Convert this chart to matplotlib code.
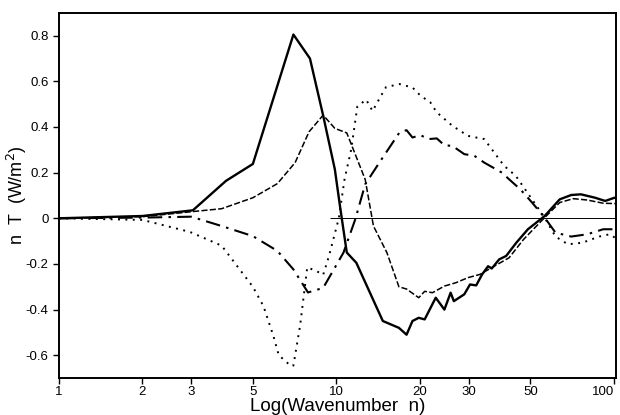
import matplotlib
matplotlib.use("Agg")
import matplotlib.pyplot as plt
import numpy as np
from matplotlib.ticker import FixedLocator, FixedFormatter

plt.rcParams['font.family'] = ['Liberation Sans', 'DejaVu Sans']
plt.rcParams['axes.unicode_minus'] = False

# solid curve
n_solid = [1, 2, 3.04, 4.0, 5.0, 7.0, 8.03, 8.96, 9.87, 10.3, 10.9, 11.8, 14.7, 16.8,
           17.9, 18.8, 19.8, 20.8, 22.8, 24.5, 25.8, 26.5, 28.9, 30.3, 31.9, 33.5,
           35.2, 36.3, 38.6, 40.9, 44.5, 49.0, 56.3, 63.8, 70.2, 76.1, 85.6, 93.0,
           100.5, 103]
v_solid = [0, 0.01, 0.035, 0.164, 0.238, 0.805, 0.70, 0.45, 0.215, 0.054, -0.15,
           -0.195, -0.45, -0.48, -0.51, -0.45, -0.436, -0.443, -0.348, -0.40, -0.326,
           -0.363, -0.333, -0.29, -0.294, -0.246, -0.21, -0.22, -0.18, -0.165, -0.107,
           -0.048, 0.01, 0.083, 0.102, 0.105, 0.09, 0.076, 0.09, 0.088]

# short-dashed curve
n_dash = [1, 2, 3.07, 3.86, 5.0, 6.13, 7.1, 7.97, 8.96, 9.87, 10.9, 12.7, 13.6,
          15.2, 16.8, 17.9, 19.8, 20.8, 22.2, 24.5, 27.0, 29.8, 32.9, 36.3, 41.9,
          47.3, 56.3, 63.8, 71.4, 80.2, 91.5, 103]
v_dash = [0, 0.007, 0.03, 0.042, 0.09, 0.152, 0.244, 0.379, 0.452, 0.394, 0.374,
          0.17, -0.034, -0.15, -0.30, -0.31, -0.348, -0.32, -0.326, -0.297, -0.282,
          -0.26, -0.246, -0.216, -0.173, -0.092, 0.003, 0.069, 0.086, 0.08, 0.066, 0.064]

# dotted curve
n_dot = [1, 2, 2.97, 3.86, 5.0, 5.46, 5.93, 6.2, 6.87, 7.0, 7.4, 7.85, 8.5, 8.96,
         9.4, 10.2, 10.7, 11.3, 11.9, 12.8, 13.5, 14.3, 15.1, 16.9, 18.8, 20.1,
         21.8, 23.0, 26.2, 29.8, 34.1, 40.2, 44.3, 50.7, 56.3, 61.6, 68.3, 77.0,
         88.5, 96.6, 103]
v_dot = [0, -0.007, -0.06, -0.12, -0.30, -0.385, -0.516, -0.60, -0.648, -0.645,
         -0.47, -0.215, -0.232, -0.248, -0.166, 0.0, 0.171, 0.30, 0.49, 0.52, 0.47,
         0.525, 0.575, 0.588, 0.573, 0.537, 0.508, 0.464, 0.405, 0.361, 0.347, 0.23,
         0.186, 0.083, 0.003, -0.08, -0.114, -0.107, -0.08, -0.07, -0.092]

# dash-dot curve
n_dd = [1, 2, 3.0, 3.86, 5.0, 6.13, 7.0, 7.9, 8.96, 10.6, 11.7, 12.7, 14.3, 16.9,
        17.9, 18.8, 20.1, 21.5, 23.0, 24.5, 26.2, 28.9, 31.4, 34.1, 39.5, 41.9,
        46.0, 50.7, 56.3, 61.6, 70.2, 80.2, 91.5, 103]
v_dd = [0, 0.003, 0.007, -0.034, -0.078, -0.143, -0.224, -0.325, -0.305, -0.151,
        -0.004, 0.149, 0.245, 0.377, 0.386, 0.354, 0.364, 0.347, 0.35, 0.32, 0.317,
        0.281, 0.274, 0.244, 0.2, 0.171, 0.127, 0.069, 0.003, -0.063, -0.08, -0.07,
        -0.048, -0.048]

x_ticks = [1, 2, 3, 5, 10, 20, 30, 50, 100]
x_labels = ['1', '2', '3', '5', '10', '20', '30', '50', '100']
y_ticks = [-0.6, -0.4, -0.2, 0, 0.2, 0.4, 0.6, 0.8]
y_labels = ['-0.6', '-0.4', '-0.2', '0', '0.2', '0.4', '0.6', '0.8']

fig = plt.figure(figsize=(6.2, 4.15), dpi=100)
ax = fig.add_axes([0.095, 0.089, 0.899, 0.88])

ax.hlines(0, 9.5, 103, color='black', lw=0.7)
ax.plot(n_solid, v_solid, color='black', lw=1.7, ls='-')
ax.plot(n_dash, v_dash, color='black', lw=1.1, ls=(0, (4, 1.5)))
ax.plot(n_dot, v_dot, color='black', lw=1.4, ls=(0, (1, 2.8)))
ax.plot(n_dd, v_dd, color='black', lw=1.5, ls=(0, (7, 3, 1.2, 3)))

ax.set_xscale('log')
ax.set_xlim(1, 102)
ax.set_ylim(-0.70, 0.90)
ax.xaxis.set_major_locator(FixedLocator(x_ticks))
ax.xaxis.set_major_formatter(FixedFormatter(x_labels))
ax.xaxis.set_minor_locator(FixedLocator([]))
ax.yaxis.set_major_locator(FixedLocator(y_ticks))
ax.yaxis.set_major_formatter(FixedFormatter(y_labels))
ax.tick_params(direction='out', length=4, width=1.0, labelsize=9.5)
ax.tick_params(axis='x', pad=2)
ax.get_xticklabels()[-1].set_horizontalalignment('right')
for s in ax.spines.values():
    s.set_linewidth(1.4)

ax.set_xlabel('Log(Wavenumber  n)', fontsize=13.5, labelpad=0)
ax.set_ylabel('n  T  (W/m$^2$)', fontsize=13)
ax.yaxis.set_label_coords(-0.053, 0.5)

fig.savefig('out.png', dpi=100)
